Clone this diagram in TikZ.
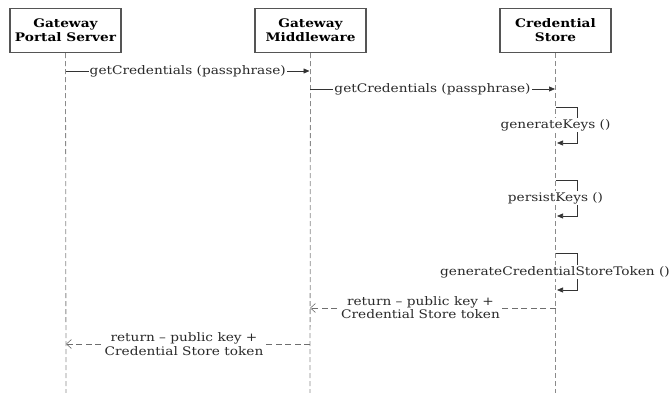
\documentclass[tikz,border=0pt]{standalone}
\usepackage{fontspec}
\setmainfont[FakeStretch=1.16]{DejaVu Serif}
\usetikzlibrary{arrows.meta}
\definecolor{boxline}{HTML}{555555}
\definecolor{lifeline}{HTML}{8A8A8A}
\definecolor{msgline}{HTML}{333333}
\definecolor{txt}{HTML}{2A2A2A}
\begin{document}
\begin{tikzpicture}[x=1pt,y=-1pt,
  participant/.style={draw=boxline,line width=1.1pt,minimum width=111pt,minimum height=44pt,
    inner sep=0pt,align=center,font=\fontsize{11.8}{14}\selectfont\bfseries,text=black},
  lifeline/.style={draw=lifeline,line width=0.8pt,dash pattern=on 5pt off 3pt},
  msg/.style={draw=msgline,line width=0.7pt,-{Triangle[length=6pt,width=5pt]}},
  ret/.style={draw=lifeline!80!black,line width=0.7pt,dash pattern=on 6pt off 3.5pt,
    -{Straight Barb[length=5pt,width=9pt,line width=0.6pt]}},
  lbl/.style={fill=white,inner sep=1pt,text=txt,font=\fontsize{11.8}{13.7}\selectfont,align=center}
]
\useasboundingbox (0,0) rectangle (670,393);
% participants
\node[participant] (p1) at (65.5,30.5) {Gateway\\Portal Server};
\node[participant] (p2) at (310.5,30.5) {Gateway\\Middleware};
\node[participant] (p3) at (555.5,30.5) {Credential\\Store};
% lifeline ends
\coordinate (e1) at (66,393);
\coordinate (e2) at (310,393);
\coordinate (e3) at (555.5,393);
\draw[lifeline] (p1.south) -- (e1);
\draw[lifeline] (p2.south) -- (e2);
\draw[lifeline] (p3.south) -- (e3);
% message anchors
\coordinate (a1) at (66,71);   \coordinate (b1) at (309.5,71);
\coordinate (a2) at (310,89);  \coordinate (b2) at (555,89);
\coordinate (s1t) at (555.5,107); \coordinate (s1b) at (557,143);
\coordinate (s2t) at (555.5,180); \coordinate (s2b) at (557,216);
\coordinate (s3t) at (555.5,253); \coordinate (s3b) at (557,290);
\coordinate (r1a) at (555.5,308); \coordinate (r1b) at (310,308);
\coordinate (r2a) at (310,344);   \coordinate (r2b) at (66,344);
% calls
\draw[msg] (a1) -- (b1) node[lbl,midway] {getCredentials (passphrase)};
\draw[msg] (a2) -- (b2) node[lbl,midway] {getCredentials (passphrase)};
% self calls
\draw[msg] (s1t) -- ++(21.5,0) |- (s1b);
\node[lbl] (l1) at (555.5,125) {generateKeys ()};
\draw[msg] (s2t) -- ++(21.5,0) |- (s2b);
\node[lbl] (l2) at (555.5,198) {persistKeys ()};
\draw[msg] (s3t) -- ++(21.5,0) |- (s3b);
\node[lbl] (l3) at (555,272) {generateCredentialStoreToken ()};
% returns
\draw[ret] (r1a) -- (r1b);
\node[lbl] (rl1) at (420.5,307.5) {return -- public key +\\Credential Store token};
\draw[ret] (r2a) -- (r2b);
\node[lbl] (rl2) at (184,344) {return -- public key +\\Credential Store token};
\end{tikzpicture}
\end{document}
